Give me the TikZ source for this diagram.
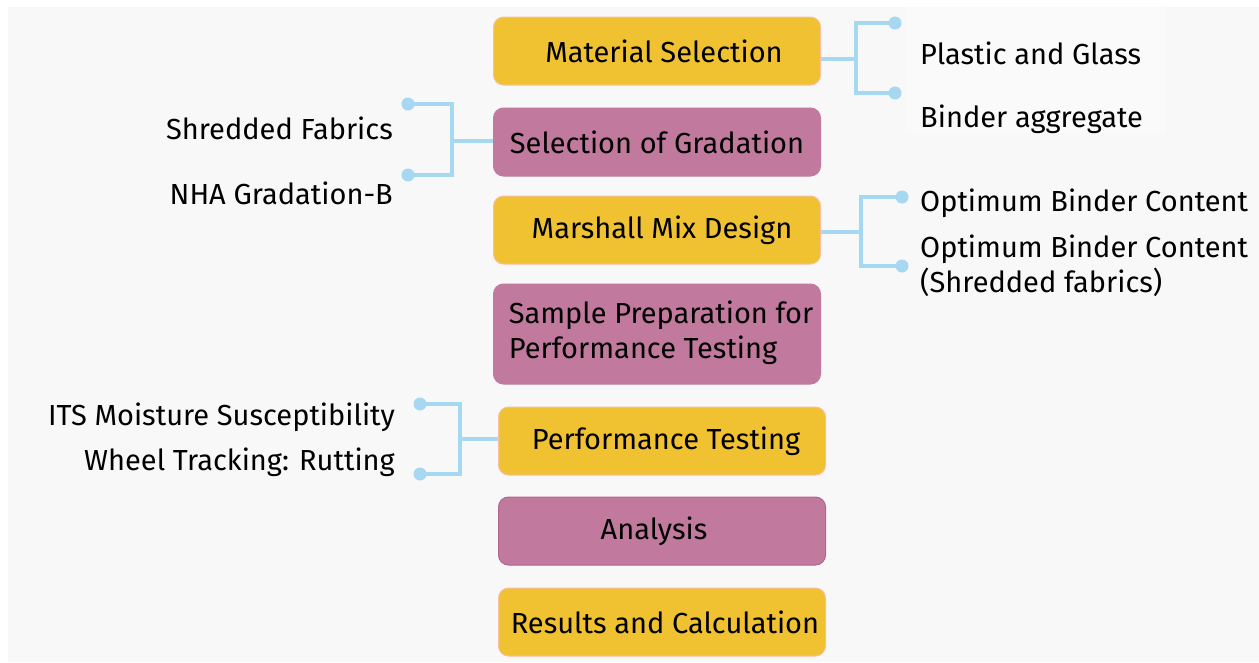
\documentclass[tikz,border=0pt]{standalone}
\usepackage{fontspec}
\setmainfont{Fira Sans}
\begin{document}
\definecolor{pagebg}{HTML}{F8F8F8}
\definecolor{gold}{HTML}{F0C232}
\definecolor{goldline}{HTML}{F8BFA0}
\definecolor{mauve}{HTML}{C17A9E}
\definecolor{mauveline}{HTML}{B2658F}
\definecolor{sky}{HTML}{A6D8F2}
\begin{tikzpicture}[x=1pt,y=-1pt,
  every node/.style={font=\fontsize{29}{35}\selectfont, text=black},
  stage/.style={rounded corners=10pt, minimum width=327pt, minimum height=68pt,
    inner sep=0pt, line width=1pt},
  goldbox/.style={stage, fill=gold, draw=goldline},
  mauvebox/.style={stage, fill=mauve, draw=mauve},
  conn/.style={draw=sky, line width=4pt},
  dot/.style={circle, fill=sky, minimum size=13pt, inner sep=0pt},
  side/.style={inner sep=0pt}]
% canvas
\fill[white] (0,0) rectangle (1259,662);
\fill[pagebg] (8,7) rectangle (1259,662);
\fill[white!25!pagebg] (905,7) rectangle (1166,133);
\useasboundingbox (0,0) rectangle (1259,662);

% main stages
\node[goldbox] (ms) at (657,51) {\hspace{14pt}Material Selection};
\node[mauvebox] (sg) at (657,142) {Selection of Gradation};
\node[goldbox] (mm) at (657,230) {\hspace{10pt}Marshall Mix Design};
\node[mauvebox, minimum height=100pt, align=left] (sp) at (657,334)
  {\hspace{8pt}\begin{tabular}{@{}l@{}}Sample Preparation for\\Performance Testing\end{tabular}};
\node[goldbox] (pt) at (662,441) {\hspace{8pt}Performance Testing};
\node[mauvebox, draw=mauveline] (an) at (662,531) {\hspace{-16pt}Analysis};
\node[goldbox] (rc) at (662,622) {\hspace{6pt}Results and Calculation};

% Material Selection branch
\node[dot] (d1) at (895,23) {};
\node[dot] (d2) at (895,93) {};
\coordinate (j1) at (856,59);
\draw[conn] ([yshift=-8pt]ms.east) -- (j1);
\draw[conn] (d1.center) -| (j1) |- (d2.center);
\node[side, anchor=west] (t1) at (920,53) {Plastic and Glass};
\node[side, anchor=west] (t2) at (920,119) {Binder aggregate};

% Selection of Gradation branch
\node[dot] (d3) at (408,104) {};
\node[dot] (d4) at (408,175) {};
\coordinate (j2) at (452,141);
\draw[conn] ([yshift=1pt]sg.west) -- (j2);
\draw[conn] (d3.center) -| (j2) |- (d4.center);
\node[side, anchor=east] (t3) at (393,128) {Shredded Fabrics};
\node[side, anchor=east] (t4) at (393,193) {NHA Gradation-B};

% Marshall Mix Design branch
\node[dot] (d5) at (902,197) {};
\node[dot] (d6) at (902,266) {};
\coordinate (j3) at (861,232);
\draw[conn] ([yshift=-2pt]mm.east) -- (j3);
\draw[conn] (d5.center) -| (j3) |- (d6.center);
\node[side, anchor=west] (t5) at (920,203) {Optimum Binder Content};
\node[side, anchor=north west, align=left] (t6) at (920,235)
  {Optimum Binder Content\\(Shredded fabrics)};

% Performance Testing branch
\node[dot] (d7) at (420,404) {};
\node[dot] (d8) at (420,474) {};
\coordinate (j4) at (460,439);
\draw[conn] ([yshift=2pt]pt.west) -- (j4);
\draw[conn] (d7.center) -| (j4) |- (d8.center);
\node[side, anchor=east] (t7) at (395,417) {ITS Moisture Susceptibility};
\node[side, anchor=east] (t8) at (395,462) {Wheel Tracking: Rutting};
\end{tikzpicture}
\end{document}
